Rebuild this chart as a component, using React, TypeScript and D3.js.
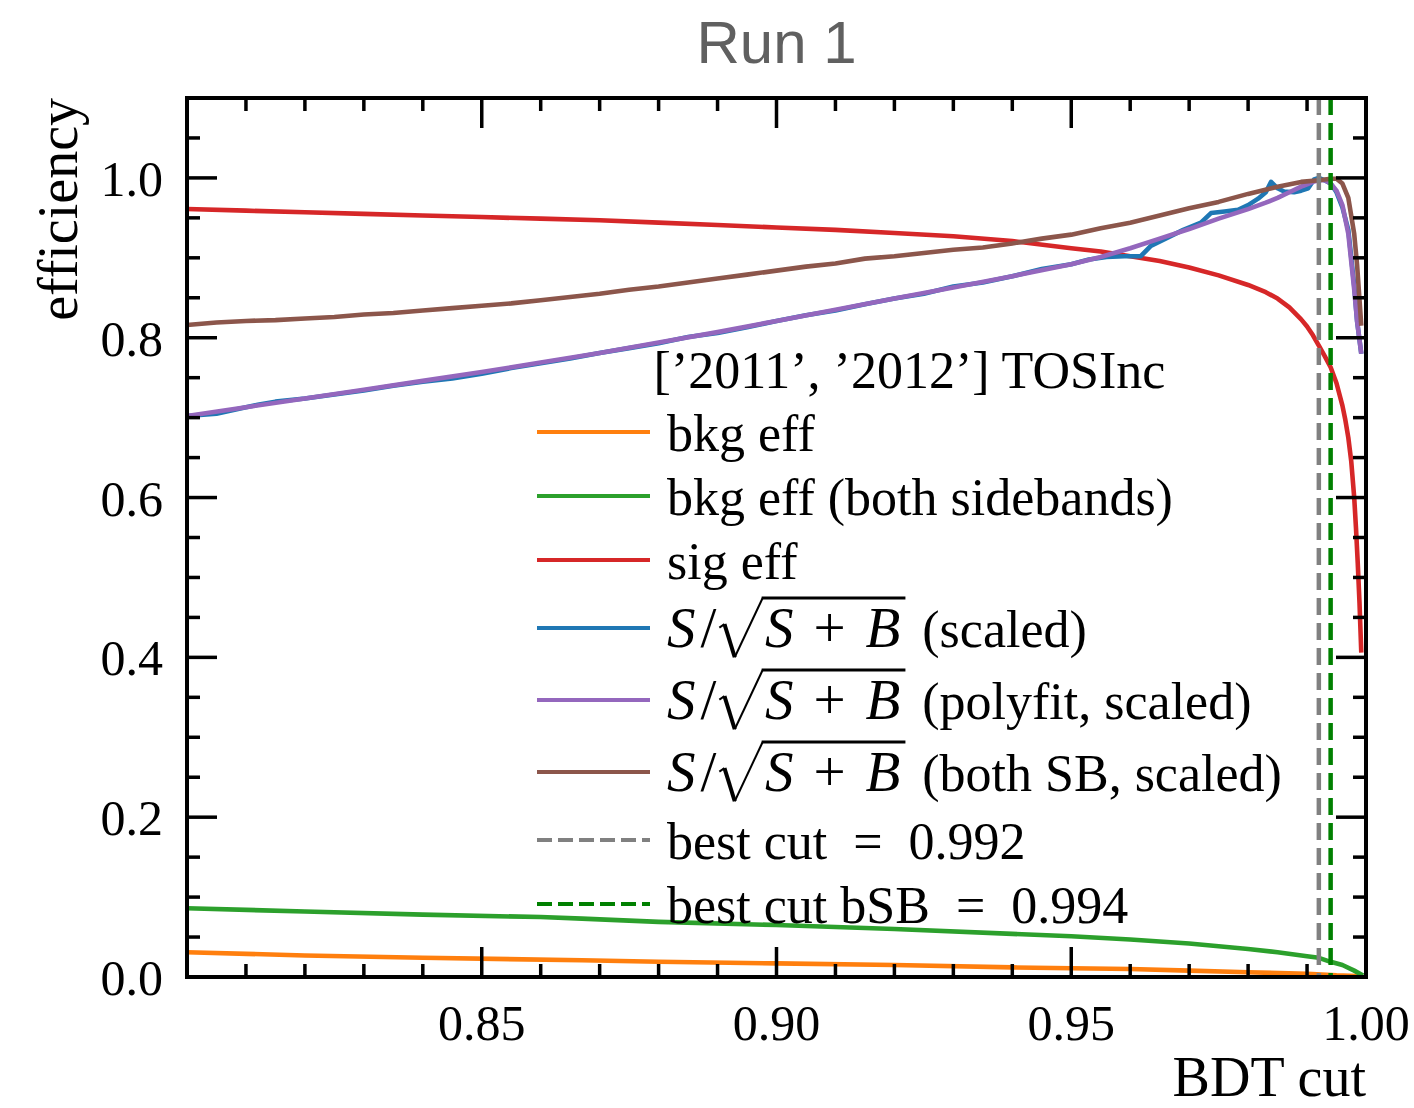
import { useEffect, useRef } from "react";
import * as d3 from "d3";

const W = 1414;
const H = 1108;

// shared BDT cut grid for the smooth curves
const cutGrid = [0.8, 0.81, 0.82, 0.83, 0.84, 0.85, 0.86, 0.87, 0.88, 0.89, 0.9, 0.91, 0.92, 0.93, 0.94, 0.95, 0.955, 0.96, 0.965, 0.97, 0.975, 0.98, 0.983, 0.985, 0.987, 0.989, 0.99, 0.991, 0.992, 0.993, 0.994, 0.995, 0.996, 0.997, 0.998, 0.9985, 0.9992];
const polyfitSig = [0.702, 0.713, 0.724, 0.735, 0.746, 0.757, 0.769, 0.781, 0.794, 0.807, 0.821, 0.835, 0.849, 0.863, 0.877, 0.892, 0.901, 0.912, 0.924, 0.936, 0.949, 0.961, 0.969, 0.975, 0.982, 0.989, 0.992, 0.995, 0.997, 0.997, 0.993, 0.984, 0.966, 0.93, 0.86, 0.82, 0.78];

// signal efficiency (finer near the end point)
const sigCut = [0.8, 0.81, 0.82, 0.83, 0.84, 0.85, 0.86, 0.87, 0.88, 0.89, 0.9, 0.91, 0.92, 0.93, 0.94, 0.95, 0.955, 0.96, 0.965, 0.97, 0.975, 0.98, 0.983, 0.985, 0.987, 0.989, 0.99, 0.991, 0.992, 0.993, 0.994, 0.995, 0.996, 0.9965, 0.997, 0.9975, 0.998, 0.9983, 0.9986, 0.9989, 0.9992];
const sigEff = [0.961, 0.959, 0.957, 0.955, 0.953, 0.951, 0.949, 0.947, 0.944, 0.941, 0.938, 0.935, 0.931, 0.927, 0.921, 0.912, 0.908, 0.902, 0.896, 0.888, 0.878, 0.866, 0.857, 0.849, 0.838, 0.823, 0.814, 0.803, 0.79, 0.777, 0.763, 0.743, 0.715, 0.697, 0.675, 0.645, 0.6, 0.562, 0.518, 0.468, 0.406];

// S/sqrt(S+B), raw (scaled)
const rawCut = [0.8, 0.805, 0.81, 0.812, 0.815, 0.82, 0.825, 0.83, 0.835, 0.84, 0.845, 0.85, 0.855, 0.86, 0.865, 0.87, 0.875, 0.88, 0.885, 0.89, 0.895, 0.9, 0.905, 0.91, 0.915, 0.92, 0.925, 0.93, 0.935, 0.94, 0.945, 0.95, 0.953, 0.956, 0.959, 0.9618, 0.9635, 0.966, 0.969, 0.972, 0.9737, 0.976, 0.9783, 0.98, 0.9817, 0.983, 0.9839, 0.985, 0.9861, 0.9878, 0.989, 0.9902, 0.9912, 0.992, 0.993, 0.994, 0.995, 0.996, 0.997, 0.998, 0.9985, 0.9992];
const rawSig = [0.702, 0.705, 0.713, 0.716, 0.72, 0.724, 0.729, 0.734, 0.74, 0.745, 0.749, 0.755, 0.762, 0.768, 0.774, 0.781, 0.787, 0.793, 0.801, 0.806, 0.813, 0.821, 0.828, 0.834, 0.842, 0.849, 0.855, 0.864, 0.869, 0.877, 0.886, 0.892, 0.898, 0.901, 0.902, 0.902, 0.915, 0.924, 0.935, 0.944, 0.956, 0.958, 0.96, 0.966, 0.974, 0.982, 0.995, 0.987, 0.983, 0.982, 0.984, 0.987, 0.998, 1.0, 0.997, 0.993, 0.982, 0.963, 0.935, 0.865, 0.82, 0.78];

// S/sqrt(S+B), both sidebands
const bothCut = [0.8, 0.805, 0.81, 0.815, 0.82, 0.825, 0.83, 0.835, 0.84, 0.845, 0.85, 0.855, 0.86, 0.865, 0.87, 0.875, 0.88, 0.885, 0.89, 0.895, 0.9, 0.905, 0.91, 0.915, 0.92, 0.925, 0.93, 0.935, 0.94, 0.945, 0.95, 0.955, 0.96, 0.965, 0.97, 0.975, 0.98, 0.985, 0.989, 0.992, 0.994, 0.995, 0.996, 0.997, 0.998, 0.9985, 0.9992];
const bothSig = [0.816, 0.819, 0.821, 0.822, 0.824, 0.826, 0.829, 0.831, 0.834, 0.837, 0.84, 0.843, 0.847, 0.851, 0.855, 0.86, 0.864, 0.869, 0.874, 0.879, 0.884, 0.889, 0.893, 0.899, 0.902, 0.906, 0.91, 0.913, 0.918, 0.924, 0.929, 0.937, 0.944, 0.953, 0.962, 0.97, 0.98, 0.989, 0.995, 0.997, 0.999, 0.999, 0.993, 0.975, 0.93, 0.89, 0.815];

const bkgCut = [0.8, 0.82, 0.84, 0.867, 0.88, 0.9, 0.92, 0.94, 0.95, 0.96, 0.97, 0.98, 0.99, 0.995, 0.9995];
const bkgEff = [0.031, 0.027, 0.024, 0.021, 0.019, 0.017, 0.015, 0.012, 0.011, 0.01, 0.008, 0.006, 0.004, 0.002, 0.001];

const bkgBothCut = [0.8, 0.82, 0.84, 0.86, 0.867, 0.88, 0.9, 0.92, 0.94, 0.95, 0.96, 0.97, 0.98, 0.985, 0.99, 0.992, 0.994, 0.996, 0.998, 0.9995];
const bkgBothEff = [0.086, 0.082, 0.078, 0.075, 0.073, 0.069, 0.065, 0.06, 0.054, 0.051, 0.047, 0.042, 0.035, 0.031, 0.026, 0.024, 0.019, 0.015, 0.008, 0.002];

const bestCut = 0.992;
const bestCutBSB = 0.994;

const xTicks = [0.85, 0.9, 0.95, 1.0];
const yTicks = [0.0, 0.2, 0.4, 0.6, 0.8, 1.0];

const SERIF = "'Liberation Serif', 'Times New Roman', serif";

type Pt = [number, number];
const zip = (xs: number[], ys: number[]): Pt[] => xs.map((v, i) => [v, ys[i]]);

export default function App() {
  const ref = useRef<SVGSVGElement>(null);

  useEffect(() => {
    const svg = d3.select(ref.current);
    svg.selectAll("*").remove();

    const margin = { left: 187, right: 1366, top: 98, bottom: 977 };
    const x = d3.scaleLinear().domain([0.8, 1.0]).range([margin.left, margin.right]);
    const y = d3.scaleLinear().domain([0, 1.1]).range([margin.bottom, margin.top]);

    const line = d3.line<Pt>().x(d => x(d[0])).y(d => y(d[1]));

    // curves
    const series = [
      { pts: zip(bkgCut, bkgEff), color: "#ff7f0e" },
      { pts: zip(bkgBothCut, bkgBothEff), color: "#2ca02c" },
      { pts: zip(sigCut, sigEff), color: "#d62728" },
      { pts: zip(rawCut, rawSig), color: "#1f77b4" },
      { pts: zip(cutGrid, polyfitSig), color: "#9467bd" },
      { pts: zip(bothCut, bothSig), color: "#8c564b" },
    ];
    series.forEach(s => {
      svg.append("path")
        .attr("d", line(s.pts))
        .attr("fill", "none")
        .attr("stroke", s.color)
        .attr("stroke-width", 4.6)
        .attr("stroke-linejoin", "round");
    });

    // best-cut markers
    [{ v: bestCut, color: "#808080" }, { v: bestCutBSB, color: "#008000" }].forEach(c => {
      svg.append("line")
        .attr("x1", x(c.v)).attr("x2", x(c.v))
        .attr("y1", margin.top).attr("y2", margin.bottom)
        .attr("stroke", c.color)
        .attr("stroke-width", 4.5)
        .attr("stroke-dasharray", "17,8");
    });

    // ticks (inward, all four sides)
    const tickG = svg.append("g").attr("stroke", "black").attr("stroke-width", 3.5);
    const majorLen = 30, minorLen = 13;
    x.ticks(20).forEach(t => {
      if (t <= 0.8001 || t >= 0.9999) return;
      const major = xTicks.some(m => Math.abs(m - t) < 1e-6);
      const len = major ? majorLen : minorLen;
      tickG.append("line").attr("x1", x(t)).attr("x2", x(t)).attr("y1", margin.bottom).attr("y2", margin.bottom - len);
      tickG.append("line").attr("x1", x(t)).attr("x2", x(t)).attr("y1", margin.top).attr("y2", margin.top + len);
    });
    y.ticks(22).forEach(t => {
      if (t <= 0.0001 || t >= 1.0999) return;
      const major = yTicks.some(m => Math.abs(m - t) < 1e-6);
      const len = major ? majorLen : minorLen;
      tickG.append("line").attr("y1", y(t)).attr("y2", y(t)).attr("x1", margin.left).attr("x2", margin.left + len);
      tickG.append("line").attr("y1", y(t)).attr("y2", y(t)).attr("x1", margin.right).attr("x2", margin.right - len);
    });

    // frame
    svg.append("rect")
      .attr("x", margin.left).attr("y", margin.top)
      .attr("width", margin.right - margin.left).attr("height", margin.bottom - margin.top)
      .attr("fill", "none").attr("stroke", "black").attr("stroke-width", 4);

    // tick labels
    const fmtY = d3.format(".1f");
    const fmtX = d3.format(".2f");
    svg.append("g").selectAll("text").data(yTicks).enter().append("text")
      .attr("x", margin.left - 24).attr("y", d => y(d) + 18)
      .attr("text-anchor", "end")
      .style("font-family", SERIF).style("font-size", "50px")
      .text(d => fmtY(d));
    svg.append("g").selectAll("text").data(xTicks).enter().append("text")
      .attr("x", d => x(d)).attr("y", margin.bottom + 63)
      .attr("text-anchor", "middle")
      .style("font-family", SERIF).style("font-size", "50px")
      .text(d => fmtX(d));

    // axis labels
    svg.append("text")
      .attr("transform", `translate(77,${margin.top}) rotate(-90)`)
      .attr("text-anchor", "end")
      .style("font-family", SERIF).style("font-size", "56px")
      .text("efficiency");
    svg.append("text")
      .attr("x", margin.right).attr("y", 1096)
      .attr("text-anchor", "end")
      .style("font-family", SERIF).style("font-size", "56px")
      .text("BDT cut");

    // title
    svg.append("text")
      .attr("x", (margin.left + margin.right) / 2).attr("y", 63)
      .attr("text-anchor", "middle")
      .style("font-family", "'Liberation Sans', Arial, sans-serif")
      .style("font-size", "60px")
      .attr("fill", "#606060")
      .text("Run 1");

    // legend
    const legendItems = [
      { label: "bkg eff", color: "#ff7f0e", dash: null, math: false },
      { label: "bkg eff (both sidebands)", color: "#2ca02c", dash: null, math: false },
      { label: "sig eff", color: "#d62728", dash: null, math: false },
      { label: "(scaled)", color: "#1f77b4", dash: null, math: true },
      { label: "(polyfit, scaled)", color: "#9467bd", dash: null, math: true },
      { label: "(both SB, scaled)", color: "#8c564b", dash: null, math: true },
      { label: "best cut\u2002=\u20020.992", color: "#808080", dash: "15,6", math: false },
      { label: "best cut bSB\u2002=\u20020.994", color: "#008000", dash: "15,6", math: false },
    ];
    const fs = 52;
    const mfs = 57;
    const lg = svg.append("g");
    const hx0 = 537, hx1 = 650, tx = 667;
    let top = 400;
    let maxRight = 0;
    legendItems.forEach(item => {
      const h = item.math ? 72 : 64;
      const cy = top + h / 2;
      const base = cy + 19;
      lg.append("line")
        .attr("x1", hx0).attr("x2", hx1).attr("y1", cy).attr("y2", cy)
        .attr("stroke", item.color).attr("stroke-width", 4)
        .attr("stroke-dasharray", item.dash);
      if (!item.math) {
        const t = lg.append("text").attr("x", tx).attr("y", base)
          .style("font-family", SERIF).style("font-size", `${fs}px`).text(item.label);
        maxRight = Math.max(maxRight, tx + (t.node() as SVGTextElement).getComputedTextLength());
      } else {
        // S/sqrt(S+B) drawn piece by piece
        const t1 = lg.append("text").attr("x", tx).attr("y", base)
          .style("font-family", SERIF).style("font-size", `${mfs}px`);
        t1.append("tspan").style("font-style", "italic").text("S");
        t1.append("tspan").attr("dx", 5).text("/");
        const w1 = (t1.node() as SVGTextElement).getComputedTextLength() + 5;
        const xr = tx + w1 + 3;
        const topY = base - 0.86 * mfs;
        lg.append("path")
          .attr("d", `M${xr},${base - 0.34 * mfs} L${xr + 0.09 * mfs},${base - 0.4 * mfs}`)
          .attr("stroke", "black").attr("stroke-width", 2).attr("fill", "none");
        lg.append("path")
          .attr("d", `M${xr + 0.09 * mfs},${base - 0.4 * mfs} L${xr + 0.27 * mfs},${base + 0.18 * mfs}`)
          .attr("stroke", "black").attr("stroke-width", 4).attr("fill", "none");
        lg.append("path")
          .attr("d", `M${xr + 0.27 * mfs},${base + 0.18 * mfs} L${xr + 0.76 * mfs},${topY}`)
          .attr("stroke", "black").attr("stroke-width", 2).attr("fill", "none");
        const sx = xr + 0.8 * mfs;
        const t2 = lg.append("text").attr("x", sx).attr("y", base)
          .style("font-family", SERIF).style("font-size", `${mfs}px`);
        t2.append("tspan").style("font-style", "italic").text("S");
        t2.append("tspan").attr("dx", 20).text("+");
        t2.append("tspan").attr("dx", 20).style("font-style", "italic").text("B");
        const w2 = (t2.node() as SVGTextElement).getComputedTextLength() + 40;
        lg.append("line")
          .attr("x1", xr + 0.76 * mfs - 1).attr("x2", sx + w2 + 5)
          .attr("y1", topY).attr("y2", topY)
          .attr("stroke", "black").attr("stroke-width", 3);
        const t3x = sx + w2 + 0.42 * fs;
        const t3 = lg.append("text").attr("x", t3x).attr("y", base)
          .style("font-family", SERIF).style("font-size", `${fs}px`).text(item.label);
        maxRight = Math.max(maxRight, t3x + (t3.node() as SVGTextElement).getComputedTextLength());
      }
      top += h;
    });
    lg.append("text")
      .attr("x", (hx0 + maxRight) / 2).attr("y", 388)
      .attr("text-anchor", "middle")
      .style("font-family", SERIF).style("font-size", `${fs}px`)
      .text("[\u20192011\u2019, \u20192012\u2019] TOSInc");
  }, []);

  return (
    <div style={{ position: "absolute", left: 0, top: 0, width: W, height: H, background: "white" }}>
      <svg ref={ref} width={W} height={H} style={{ display: "block" }} />
    </div>
  );
}
